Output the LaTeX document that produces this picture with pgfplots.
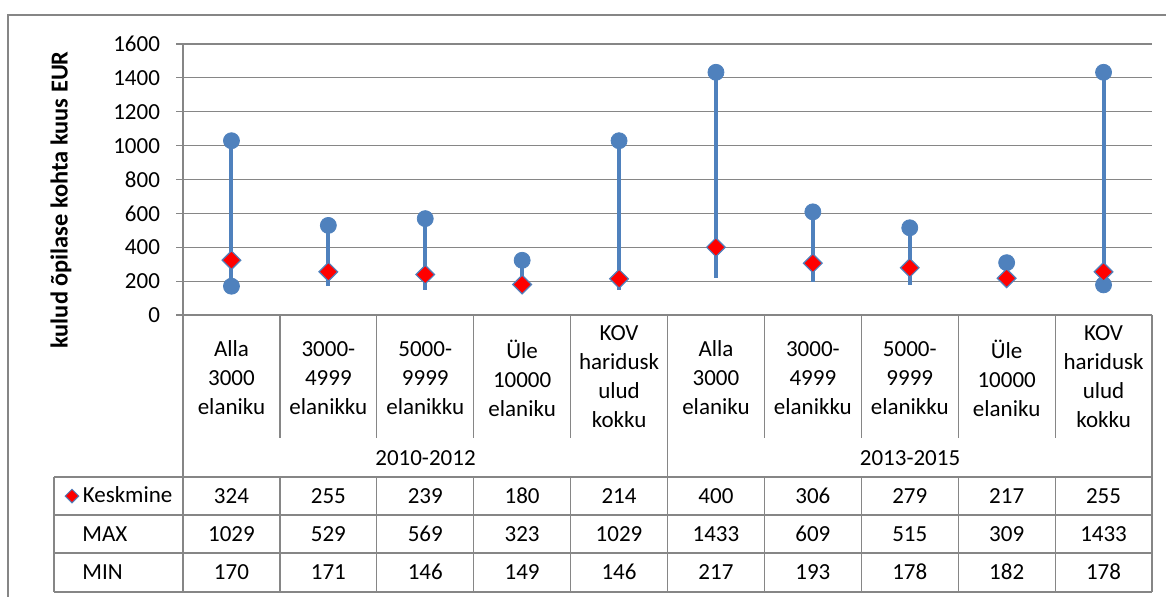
\documentclass[border=0pt]{standalone}
\usepackage{fontspec}
\setmainfont{Carlito}
\usepackage{pgfplots}
\pgfplotsset{compat=1.18}
\usepackage{pgfplotstable}

\definecolor{xblue}{RGB}{79,129,189}
\definecolor{xgrid}{RGB}{134,134,134}

% x = column, mean = Keskmine
\pgfplotstableread{
x mean max min
0 324 1029 170
1 255 529 171
2 239 569 146
3 180 323 149
4 214 1029 146
5 400 1433 217
6 306 609 193
7 279 515 178
8 217 309 182
9 255 1433 178
}\datatable

\begin{document}
\fontsize{11.5}{14.5}\selectfont
\begin{tikzpicture}
\begin{axis}[
  at={(91.5pt,-157.5pt)}, anchor=south west,
  scale only axis,
  width=484.5pt, height=135.5pt,
  xmin=-0.5, xmax=9.5,
  ymin=0, ymax=1600,
  ytick={0,200,...,1600},
  xtick=\empty,
  axis x line=none,
  axis y line*=left,
  axis line style={xgrid, line width=0.6pt, -},
  ymajorgrids,
  major grid style={xgrid, line width=0.6pt},
  tick align=outside,
  major tick length=3.5pt,
  ytick style={xgrid, line width=0.6pt},
  /pgf/number format/1000 sep={},
  /pgf/number format/assume math mode=true,
  yticklabel style={font=\fontsize{11.5}{14}\selectfont, xshift=-4pt},
  clip=false,
  legend style={at={(-0.122,-0.668)}, anchor=west, draw=none, fill=none,
    inner sep=0pt, font=\fontsize{11.5}{14}\selectfont},
  legend cell align=left,
  legend image code/.code={\draw[#1] plot coordinates {(3pt,0pt)};},
]
% high-low lines
\addplot[draw=none, mark=none, forget plot,
  error bars/.cd, y dir=minus, y explicit, error mark=none,
  error bar style={draw=xblue, line width=2pt}]
  table[x=x, y=max, y error minus expr=\thisrow{max}-\thisrow{min}] {\datatable};
% MAX
\addplot[only marks, mark=*, mark size=4pt, mark options={draw=xblue, fill=xblue}, forget plot]
  table[x=x, y=max] {\datatable};
% MIN (markers shown only on first and last)
\addplot[only marks, mark=*, mark size=4pt, mark options={draw=xblue, fill=xblue}, forget plot]
  coordinates {(0,170) (9,178)};
% Keskmine
\addplot[only marks, mark=square*, mark size=3.3pt,
  mark options={rotate=45, fill=red, draw=xblue, line width=0.6pt}, forget plot]
  table[x=x, y=mean] {\datatable};
\addlegendimage{only marks, mark=square*, mark size=2.4pt,
  mark options={rotate=45, fill=red, draw=xblue, line width=0.5pt}}
\addlegendentry{Keskmine}
\end{axis}

\begin{scope}[x=0.5pt, y=-0.5pt]
\path[use as bounding box] (0,0) rectangle (1166,596);
\draw[xgrid, line width=0.6pt] (8,600) -- (8,15) -- (1170,15);
% y label
\node[rotate=90, font=\bfseries\fontsize{12.2}{14}\selectfont] at (61,200)
  {kulud õpilase kohta kuus EUR};
% data table grid
\begin{scope}[xgrid, line width=0.6pt]
\draw (183,315) -- (1152,315);
\foreach \y in {477,515,553,592} \draw (54,\y) -- (1152,\y);
\draw (54,477) -- (54,592);
\foreach \k in {0,5,10} \draw ({183+96.9*\k},315) -- ({183+96.9*\k},592);
\foreach \k in {1,2,3,4,6,7,8,9} {
  \draw ({183+96.9*\k},315) -- ({183+96.9*\k},438);
  \draw ({183+96.9*\k},477) -- ({183+96.9*\k},592);
}
\end{scope}
% category labels
\foreach \g in {0,5} {
  \node[align=center] at ({183+96.9*(\g+0.5)},378) {Alla\\3000\\elaniku};
  \node[align=center] at ({183+96.9*(\g+1.5)},378) {3000-\\4999\\elanikku};
  \node[align=center] at ({183+96.9*(\g+2.5)},378) {5000-\\9999\\elanikku};
  \node[align=center] at ({183+96.9*(\g+3.5)},378) {Üle\\10000\\elaniku};
  \node[align=center] at ({183+96.9*(\g+4.5)},377) {KOV\\haridusk\\ulud\\kokku};
}
\node at (425.5,458) {2010-2012};
\node at (910,458) {2013-2015};
% row labels
\node[anchor=west, inner sep=0pt] at (82,572) {MIN};
\node[anchor=west, inner sep=0pt] at (82,534) {MAX};
% table values
\foreach \r in {0,...,9} {
  \pgfplotstablegetelem{\r}{mean}\of\datatable
  \node at ({183+96.9*(\r+0.5)},496) {\pgfplotsretval};
  \pgfplotstablegetelem{\r}{max}\of\datatable
  \node at ({183+96.9*(\r+0.5)},534) {\pgfplotsretval};
  \pgfplotstablegetelem{\r}{min}\of\datatable
  \node at ({183+96.9*(\r+0.5)},572) {\pgfplotsretval};
}
\end{scope}
\end{tikzpicture}
\end{document}
